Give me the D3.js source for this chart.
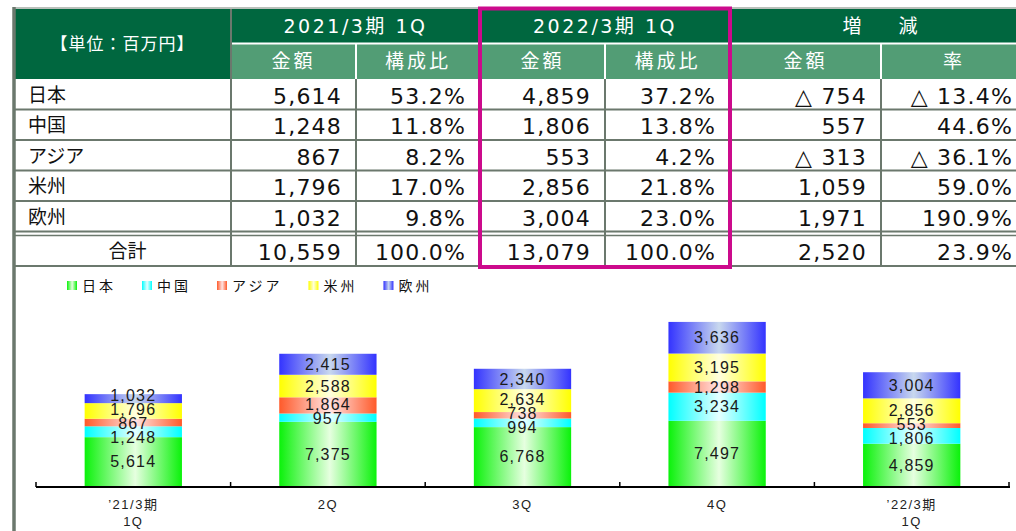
<!doctype html>
<html lang="ja">
<head>
  <meta charset="utf-8">
  <title>地域別売上高</title>
  <style>
    body { margin: 0; background: #fff; }
    svg { display: block; }
  </style>
</head>
<body>
  <div id="chart"></div>
  <script src="https://d3js.org/d3.v7.min.js"></script>
  <script>
    // Data -------------------------------------------------------------------
    const regions = ["日本", "中国", "アジア", "米州", "欧州"];
    const amount2021 = [5614, 1248, 867, 1796, 1032];
    const ratio2021 = [53.2, 11.8, 8.2, 17.0, 9.8];
    const amount2022 = [4859, 1806, 553, 2856, 3004];
    const ratio2022 = [37.2, 13.8, 4.2, 21.8, 23.0];
    const diffAmount = [-754, 557, -313, 1059, 1971];
    const diffRate = [-13.4, 44.6, -36.1, 59.0, 190.9];
    const totals = { amount2021: 10559, ratio2021: 100.0, amount2022: 13079, ratio2022: 100.0, diffAmount: 2520, diffRate: 23.9 };

    const quarters = ["’21/3期\n1Q", "2Q", "3Q", "4Q", "’22/3期\n1Q"];
    const japan = [5614, 7375, 6768, 7497, 4859];
    const china = [1248, 957, 994, 3234, 1806];
    const asia = [867, 1864, 738, 1298, 553];
    const americas = [1796, 2588, 2634, 3195, 2856];
    const europe = [1032, 2415, 2340, 3636, 3004];

    // Setup ------------------------------------------------------------------
    const width = 1016;
    const height = 531;
    const numFont = "'DejaVu Sans', 'Noto Sans CJK JP', sans-serif";
    const jpFont = "'Noto Sans CJK JP', sans-serif";
    const gridColor = "#6b786d";

    const svg = d3.select("#chart")
      .append("svg")
      .attr("width", width)
      .attr("height", height);

    const fmtAmt = v => (v < 0 ? "△ " : "") + d3.format(",")(Math.abs(v));
    const fmtPct = v => (v < 0 ? "△ " : "") + d3.format(".1f")(Math.abs(v)) + "%";

    // Table ------------------------------------------------------------------
    const colX = [14, 231, 356, 480, 605, 730, 881, 1027];
    const rowY = [79, 109.5, 140, 170.5, 201, 231.5];
    const totalTop = 235.5;
    const totalBottom = 266;
    const table = svg.append("g");

    // header backgrounds
    table.append("rect").attr("x", colX[0]).attr("y", 9).attr("width", colX[1] - colX[0]).attr("height", 70).attr("fill", "#00673f");
    table.append("rect").attr("x", colX[1]).attr("y", 9).attr("width", width + 20 - colX[1]).attr("height", 34).attr("fill", "#00673f");
    table.append("rect").attr("x", colX[1]).attr("y", 43).attr("width", width + 20 - colX[1]).attr("height", 36).attr("fill", "#529d75");
    table.append("line").attr("x1", colX[1]).attr("x2", width + 20).attr("y1", 43.5).attr("y2", 43.5).attr("stroke", "#fff").attr("stroke-width", 2);
    [2, 4, 6].forEach(i => {
      table.append("line").attr("x1", colX[i]).attr("x2", colX[i]).attr("y1", 44).attr("y2", 79)
        .attr("stroke", "#fff").attr("stroke-width", 2);
    });
    // top border
    table.append("line").attr("x1", colX[0]).attr("x2", width).attr("y1", 8).attr("y2", 8).attr("stroke", "#b9c0ba").attr("stroke-width", 2);

    // header texts
    const hdr = (x, y, t, size, ls) => table.append("text")
      .attr("x", x).attr("y", y).attr("dy", "0.35em")
      .attr("text-anchor", "middle")
      .style("font-family", numFont).style("font-size", size + "px")
      .style("letter-spacing", ls + "px")
      .attr("fill", "#fff").text(t);

    hdr((colX[0] + colX[1]) / 2, 44, "【単位：百万円】", 17, 1);
    hdr((colX[1] + colX[3]) / 2, 26, "2021/3期 1Q", 19, 2.5);
    hdr((colX[3] + colX[5]) / 2, 26, "2022/3期 1Q", 19, 2.5);
    hdr((colX[5] + colX[7]) / 2 + 6, 26, "増　減", 19, 9);
    ["金額", "構成比", "金額", "構成比", "金額", "率"].forEach((t, i) => {
      hdr((colX[i + 1] + colX[i + 2]) / 2, 61, t, 19, 3);
    });

    // grid lines
    rowY.slice(1).forEach(y => {
      table.append("line").attr("x1", colX[0]).attr("x2", width).attr("y1", y).attr("y2", y)
        .attr("stroke", gridColor).attr("stroke-width", 2);
    });
    table.append("line").attr("x1", colX[0]).attr("x2", width).attr("y1", totalTop).attr("y2", totalTop)
      .attr("stroke", gridColor).attr("stroke-width", 1.5);
    table.append("line").attr("x1", colX[0]).attr("x2", width).attr("y1", totalBottom).attr("y2", totalBottom)
      .attr("stroke", gridColor).attr("stroke-width", 2);
    colX.slice(1, 7).forEach((x, i) => {
      table.append("line").attr("x1", x).attr("x2", x)
        .attr("y1", i === 0 ? 9 : 79).attr("y2", totalBottom + 1)
        .attr("stroke", gridColor).attr("stroke-width", 2);
    });

    // body texts
    const rows = regions.map((r, i) => ({
      label: r,
      cells: [fmtAmt(amount2021[i]), fmtPct(ratio2021[i]), fmtAmt(amount2022[i]),
        fmtPct(ratio2022[i]), fmtAmt(diffAmount[i]), fmtPct(diffRate[i])],
      y: (rowY[i] + (i < 4 ? rowY[i + 1] : rowY[5])) / 2
    }));
    rows.push({
      label: "合計",
      cells: [fmtAmt(totals.amount2021), fmtPct(totals.ratio2021), fmtAmt(totals.amount2022),
        fmtPct(totals.ratio2022), fmtAmt(totals.diffAmount), fmtPct(totals.diffRate)],
      y: (totalTop + totalBottom) / 2,
      total: true
    });

    rows.forEach(row => {
      table.append("text")
        .attr("x", row.total ? (colX[0] + colX[1]) / 2 + 5 : 28)
        .attr("y", row.y + 1).attr("dy", "0.35em")
        .attr("text-anchor", row.total ? "middle" : "start")
        .style("font-family", jpFont).style("font-size", "19px")
        .attr("fill", "#111").text(row.label);
      row.cells.forEach((c, j) => {
        table.append("text")
          .attr("x", colX[j + 2] - 14)
          .attr("y", row.y + 2).attr("dy", "0.35em")
          .attr("text-anchor", "end")
          .style("font-family", numFont).style("font-size", "22px")
          .style("letter-spacing", "1.2px")
          .attr("fill", "#111").text(c);
      });
    });

    // highlight box round the current quarter
    table.append("rect")
      .attr("x", colX[3]).attr("y", 8.5)
      .attr("width", colX[5] - colX[3]).attr("height", totalBottom + 1 - 8.5)
      .attr("fill", "none").attr("stroke", "#cc0a8c").attr("stroke-width", 4);

    // left border
    svg.append("line").attr("x1", 14).attr("x2", 14).attr("y1", 7).attr("y2", height)
      .attr("stroke", gridColor).attr("stroke-width", 3.5);

    // Chart ------------------------------------------------------------------
    const seriesNames = regions;
    const seriesValues = [japan, china, asia, americas, europe];
    const edgeColors = ["#0af20a", "#00ffff", "#ff5a2a", "#ffff00", "#3333ff"];
    const centerColors = ["#e6ffe0", "#e6ffff", "#ffe4e4", "#ffffe0", "#c8d8ee"];

    const defs = svg.append("defs");
    seriesNames.forEach((s, i) => {
      const g = defs.append("linearGradient").attr("id", "grad" + i)
        .attr("x1", 0).attr("x2", 1).attr("y1", 0).attr("y2", 0);
      g.append("stop").attr("offset", "0%").attr("stop-color", edgeColors[i]);
      g.append("stop").attr("offset", "52%").attr("stop-color", centerColors[i]);
      g.append("stop").attr("offset", "100%").attr("stop-color", edgeColors[i]);
    });

    const tableData = quarters.map((q, i) => {
      const o = { quarter: q };
      seriesNames.forEach((s, k) => { o[s] = seriesValues[k][i]; });
      return o;
    });
    const stacked = d3.stack().keys(seriesNames)(tableData);

    const x = d3.scaleBand()
      .domain(quarters)
      .range([36, 1009])
      .paddingInner(0.5)
      .paddingOuter(0.25);
    const y = d3.scaleLinear()
      .domain([0, 20000])
      .range([486, 312]);

    const chart = svg.append("g");

    stacked.forEach((layer, k) => {
      chart.append("g").selectAll("rect")
        .data(layer)
        .join("rect")
        .attr("x", d => x(d.data.quarter))
        .attr("y", d => y(d[1]))
        .attr("width", x.bandwidth())
        .attr("height", d => y(d[0]) - y(d[1]))
        .attr("fill", `url(#grad${k})`);
    });

    // segment labels: start at segment middle, then spread apart where cramped
    const minGap = 14;
    quarters.forEach((q, i) => {
      const labels = stacked.map(layer => ({
        value: layer[i][1] - layer[i][0],
        cy: (y(layer[i][0]) + y(layer[i][1])) / 2
      }));
      for (let it = 0; it < 60; it++) {
        for (let k = 0; k < labels.length - 1; k++) {
          const gap = labels[k].cy - labels[k + 1].cy;
          if (gap < minGap) {
            const push = (minGap - gap) / 2;
            labels[k].cy += push;
            labels[k + 1].cy -= push;
          }
        }
      }
      chart.append("g").selectAll("text")
        .data(labels)
        .join("text")
        .attr("x", x(q) + x.bandwidth() / 2)
        .attr("y", d => d.cy)
        .attr("dy", "0.36em")
        .attr("text-anchor", "middle")
        .style("font-family", "'Liberation Sans', Arial, sans-serif")
        .style("font-size", "16px")
        .style("letter-spacing", "1.2px")
        .attr("fill", "#1a1a1a")
        .text(d => d3.format(",")(d.value));
    });

    // x axis
    const step = x.step();
    const axis = chart.append("g");
    axis.append("line").attr("x1", 36).attr("x2", 1010).attr("y1", 487).attr("y2", 487)
      .attr("stroke", "#000").attr("stroke-width", 2.2);
    d3.range(quarters.length + 1).forEach(i => {
      const tx = 36 + i * step;
      axis.append("line").attr("x1", tx).attr("x2", tx).attr("y1", 487).attr("y2", 482)
        .attr("stroke", "#000").attr("stroke-width", 1.5);
    });
    quarters.forEach(q => {
      const t = axis.append("text")
        .attr("x", x(q) + x.bandwidth() / 2)
        .attr("y", 509)
        .attr("text-anchor", "middle")
        .style("font-family", "'Liberation Sans', 'Noto Sans CJK JP', sans-serif")
        .style("font-size", "13px")
        .style("letter-spacing", "1.5px")
        .attr("fill", "#222");
      q.split("\n").forEach((line, li) => {
        t.append("tspan").attr("x", x(q) + x.bandwidth() / 2).attr("dy", li ? 17 : 0).text(line);
      });
    });

    // legend
    const legend = svg.append("g");
    let lx = 67;
    seriesNames.forEach((s, i) => {
      legend.append("rect").attr("x", lx).attr("y", 281).attr("width", 10).attr("height", 9)
        .attr("fill", `url(#grad${i})`);
      const t = legend.append("text")
        .attr("x", lx + 15).attr("y", 286).attr("dy", "0.36em")
        .style("font-family", jpFont).style("font-size", "14px")
        .style("letter-spacing", "3px")
        .attr("fill", "#111").text(s);
      lx += 15 + t.node().getComputedTextLength() + 26;
    });
  </script>
</body>
</html>
